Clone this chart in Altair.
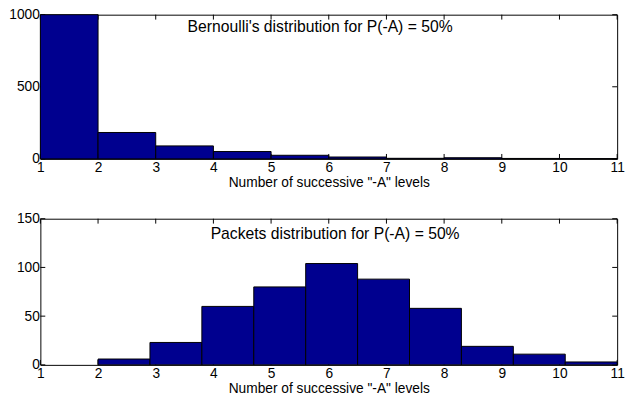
import altair as alt
import pandas as pd

# ---- data ----
x_tick_values = [1, 2, 3, 4, 5, 6, 7, 8, 9, 10, 11]

top_bin_start = [1, 2, 3, 4, 5, 6, 7, 8, 9, 10]
top_bin_end = [2, 3, 4, 5, 6, 7, 8, 9, 10, 11]
top_counts = [1000, 183, 90, 51, 25, 13, 4, 8, 3, 2]
top_y_ticks = [0, 500, 1000]
top_title = "Bernoulli's distribution for P(-A) = 50%"

bot_bin_start = [2.0, 2.9, 3.8, 4.7, 5.6, 6.5, 7.4, 8.3, 9.2, 10.1]
bot_bin_end = [2.9, 3.8, 4.7, 5.6, 6.5, 7.4, 8.3, 9.2, 10.1, 11.0]
bot_counts = [6, 23, 60, 80, 104, 88, 58, 19, 11, 3]
bot_y_ticks = [0, 50, 100, 150]
bot_title = "Packets distribution for P(-A) = 50%"

x_title = 'Number of successive "-A" levels'

W = 588
H_TOP = 147
H_BOT = 149
TICK = 5
FONT = "Liberation Sans"
BAR = "#00008F"


def panel(starts, ends, counts, yticks, title, tx, ty, H):
    ymax = yticks[-1]
    xs = alt.Scale(domain=[1, 11], nice=False, zero=False)
    ys = alt.Scale(domain=[0, ymax], nice=False, zero=True)
    xaxis = alt.Axis(values=x_tick_values, format="d", title=x_title,
                     ticks=False, domain=False, grid=False,
                     labelPadding=2, titlePadding=1, labelFlush=False)
    yaxis = alt.Axis(values=yticks, format="d", title=None,
                     ticks=False, domain=False, grid=False,
                     labelPadding=1, minExtent=31, maxExtent=31)

    bars_df = pd.DataFrame({"start": starts, "end": ends, "count": counts})
    xt_df = pd.DataFrame({"v": x_tick_values})
    yt_df = pd.DataFrame({"v": yticks})
    txt_df = pd.DataFrame({"x": [tx], "y": [ty], "label": [title]})

    xt_top = alt.Chart(xt_df).mark_rule(color="black", strokeWidth=1).encode(
        x=alt.X("v:Q", scale=xs, axis=xaxis), y=alt.value(0), y2=alt.value(TICK))
    xt_bot = alt.Chart(xt_df).mark_rule(color="black", strokeWidth=1).encode(
        x=alt.X("v:Q", scale=xs, axis=xaxis), y=alt.value(H - TICK), y2=alt.value(H))
    yt_left = alt.Chart(yt_df).mark_rule(color="black", strokeWidth=1).encode(
        y=alt.Y("v:Q", scale=ys, axis=yaxis), x=alt.value(0), x2=alt.value(TICK))
    yt_right = alt.Chart(yt_df).mark_rule(color="black", strokeWidth=1).encode(
        y=alt.Y("v:Q", scale=ys, axis=yaxis), x=alt.value(W - TICK), x2=alt.value(W))

    bars = alt.Chart(bars_df).mark_rect(fill=BAR, stroke="black", strokeWidth=1).encode(
        x=alt.X("start:Q", scale=xs, axis=xaxis),
        x2="end:Q",
        y=alt.Y("count:Q", scale=ys, axis=yaxis),
        y2=alt.datum(0),
    )

    text = alt.Chart(txt_df).mark_text(
        align="center", baseline="alphabetic", font=FONT, fontSize=16, color="black"
    ).encode(
        x=alt.X("x:Q", scale=xs, axis=xaxis),
        y=alt.Y("y:Q", scale=ys, axis=yaxis),
        text="label:N",
    )

    return alt.layer(xt_top, xt_bot, yt_left, yt_right, bars, text).properties(width=W, height=H)


top = panel(top_bin_start, top_bin_end, top_counts, top_y_ticks, top_title, 5.85, 880, H_TOP)
bot = panel(bot_bin_start, bot_bin_end, bot_counts, bot_y_ticks, bot_title, 6.11, 129, H_BOT)

chart = alt.vconcat(top, bot, spacing=21).properties(
    padding={"left": 0, "top": -5, "right": 0, "bottom": 0},
    background="white",
).configure_view(stroke="black", strokeWidth=1).configure_axis(
    labelFont=FONT, labelFontSize=14, labelColor="black",
    titleFont=FONT, titleFontSize=14, titleFontWeight="normal", titleColor="black",
)

chart.save("out.html", embed_options={"renderer": "svg", "actions": False})
